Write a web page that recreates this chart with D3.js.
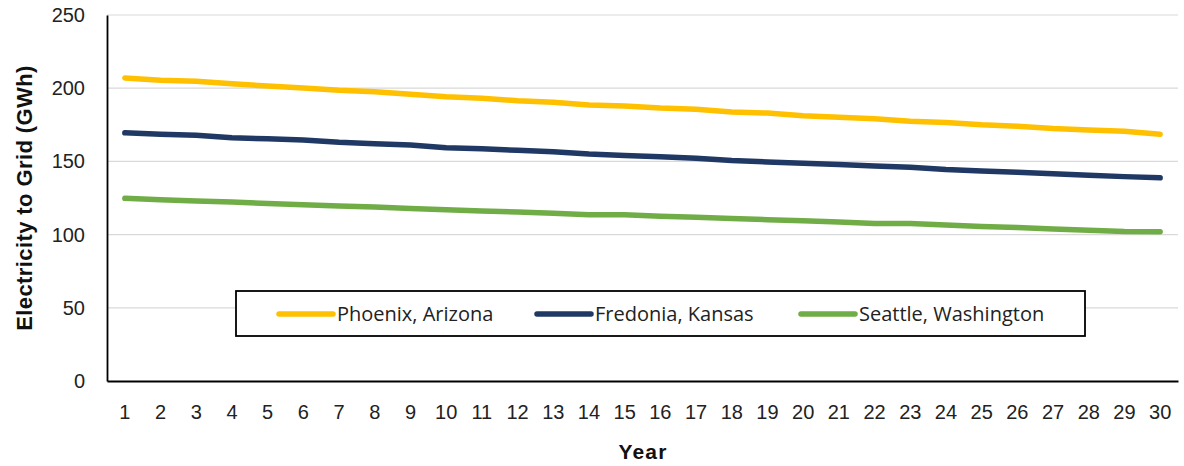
<!DOCTYPE html>
<html>
<head>
<meta charset="utf-8">
<script src="https://cdn.jsdelivr.net/npm/d3@7"></script>
<style>
  html, body { margin: 0; padding: 0; background: #fff; }
  svg { display: block; }
</style>
</head>
<body>
<svg id="chart" width="1184" height="466"></svg>
<script>
// Annual electricity delivered to the grid (GWh) over a 30-year span
const years = d3.range(1, 31);
const phoenix = [207, 205.5, 204.8, 203, 201.5, 200.2, 198.6, 197.6, 195.8, 194.2, 193.2, 191.4, 190.4, 188.6, 187.8, 186.4, 185.6, 183.8, 183, 181.2, 180.2, 179.2, 177.4, 176.6, 175, 174, 172.4, 171.4, 170.6, 168.6];
const fredonia = [169.5, 168.6, 167.8, 166.2, 165.4, 164.6, 163, 162, 161.2, 159.4, 158.6, 157.6, 156.6, 155, 154, 153.2, 152.2, 150.6, 149.6, 148.8, 147.8, 146.8, 146, 144.4, 143.4, 142.6, 141.6, 140.6, 139.6, 138.8];
const seattle = [124.8, 123.8, 123, 122.2, 121.2, 120.4, 119.6, 118.8, 117.8, 117, 116.2, 115.4, 114.6, 113.6, 113.6, 112.6, 111.8, 111, 110.2, 109.4, 108.6, 107.6, 107.6, 106.6, 105.6, 104.8, 103.8, 103, 102.2, 102];
const seriesNames = ["Phoenix, Arizona", "Fredonia, Kansas", "Seattle, Washington"];
const seriesColors = ["#FFC000", "#203864", "#70AD47"];
const yTicks = [0, 50, 100, 150, 200, 250];

const series = [phoenix, fredonia, seattle].map((vals, i) => ({
  name: seriesNames[i], color: seriesColors[i], values: vals
}));

const svg = d3.select("#chart");
const plotLeft = 107, plotRight = 1178, plotTop = 15, plotBottom = 381;
const tickFont = "Liberation Sans, Arial, sans-serif";

const x = d3.scaleBand().domain(years).range([plotLeft, plotRight]);
const y = d3.scaleLinear().domain([0, 250]).range([plotBottom, plotTop]);

// Horizontal gridlines
svg.append("g")
  .selectAll("line")
  .data(yTicks.filter(d => d > 0))
  .join("line")
  .attr("x1", plotLeft).attr("x2", plotRight)
  .attr("y1", d => y(d)).attr("y2", d => y(d))
  .attr("stroke", "#d9d9d9").attr("stroke-width", 1.2);

// Y axis
const yAxis = svg.append("g")
  .attr("transform", `translate(${plotLeft},0)`)
  .call(d3.axisLeft(y).tickValues(yTicks).tickSize(0).tickPadding(22));
yAxis.select(".domain").attr("stroke", "#000").attr("stroke-width", 1.8);
yAxis.selectAll("text")
  .attr("font-family", tickFont)
  .attr("font-size", 20).attr("fill", "#222");

// X axis
const xAxis = svg.append("g")
  .attr("transform", `translate(0,${plotBottom})`)
  .call(d3.axisBottom(x).tickSize(0).tickPadding(24));
xAxis.select(".domain").attr("stroke", "#000").attr("stroke-width", 1.8);
xAxis.selectAll("text")
  .attr("font-family", tickFont)
  .attr("font-size", 20).attr("fill", "#222");

// Series lines
const line = d3.line()
  .x((d, i) => x(years[i]) + x.bandwidth() / 2)
  .y(d => y(d));

svg.append("g")
  .selectAll("path")
  .data(series)
  .join("path")
  .attr("d", d => line(d.values))
  .attr("fill", "none")
  .attr("stroke", d => d.color)
  .attr("stroke-width", 5.5)
  .attr("stroke-linecap", "round")
  .attr("stroke-linejoin", "round");

// Axis titles
svg.append("text")
  .attr("x", 643).attr("y", 459)
  .attr("text-anchor", "middle")
  .attr("font-family", tickFont)
  .attr("font-weight", 700).attr("font-size", 21)
  .attr("letter-spacing", 1.2)
  .attr("fill", "#111")
  .text("Year");

svg.append("text")
  .attr("transform", "translate(32,198) rotate(-90)")
  .attr("text-anchor", "middle")
  .attr("font-family", tickFont)
  .attr("font-weight", 700).attr("font-size", 22)
  .attr("letter-spacing", 0.4)
  .attr("fill", "#111")
  .text("Electricity to Grid (GWh)");

// Legend
const legend = svg.append("g");
legend.append("rect")
  .attr("x", 236).attr("y", 291)
  .attr("width", 849).attr("height", 45)
  .attr("fill", "#fff").attr("stroke", "#000").attr("stroke-width", 1.8);

const legendX = [279, 537, 801];
const item = legend.selectAll("g.item")
  .data(series)
  .join("g")
  .attr("class", "item")
  .attr("transform", (d, i) => `translate(${legendX[i]},314)`);
item.append("line")
  .attr("x1", 0).attr("x2", 54)
  .attr("stroke", d => d.color)
  .attr("stroke-width", 5.5)
  .attr("stroke-linecap", "round");
item.append("text")
  .attr("x", 58).attr("y", 7)
  .attr("font-family", "Open Sans, sans-serif")
  .attr("font-size", 20).attr("fill", "#222")
  .text(d => d.name);
</script>
</body>
</html>
